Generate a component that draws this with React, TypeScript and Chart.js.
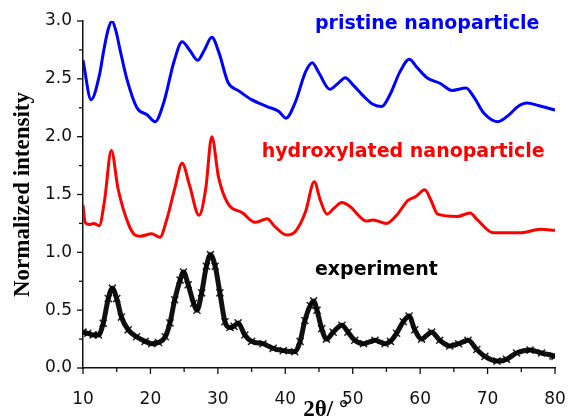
import React, { useEffect, useRef } from "react";
import { Chart, registerables } from "chart.js";

Chart.register(...registerables);

const pristineX = [10, 11.2, 12.5, 13.0, 13.7, 14.3, 14.9, 15.5, 16.5, 18, 19.5, 20.7, 22, 23.5, 24.7, 25.8, 27, 28, 29.1, 30.2, 31.5, 33, 35, 37.3, 39, 40.1, 41.5, 43, 44, 45, 46.6, 47.8, 48.9, 50, 51.8, 53, 54.3, 55.5, 57, 58.4, 59.5, 61, 63, 64.7, 66.8, 68, 69.5, 71.5, 73, 74.5, 75.8, 77.5, 80];
const pristineY = [2.66, 2.32, 2.55, 2.72, 2.92, 3.0, 2.91, 2.75, 2.5, 2.25, 2.19, 2.13, 2.3, 2.65, 2.82, 2.75, 2.66, 2.75, 2.86, 2.72, 2.47, 2.4, 2.32, 2.26, 2.22, 2.16, 2.3, 2.56, 2.64, 2.55, 2.41, 2.46, 2.51, 2.45, 2.34, 2.28, 2.26, 2.36, 2.56, 2.67, 2.6, 2.51, 2.46, 2.4, 2.42, 2.34, 2.2, 2.13, 2.18, 2.26, 2.29, 2.27, 2.23];

const hydroxX = [10, 10.3, 11, 11.6, 12.4, 13.2, 14.2, 15.2, 16.7, 17.7, 18.5, 20.2, 21.4, 22.4, 23.6, 24.7, 25.8, 27.2, 28.2, 29.1, 30.1, 31.4, 33.7, 35.5, 37.3, 38.5, 40.2, 41.5, 43, 44.3, 45.2, 46.2, 47.2, 48.4, 49.5, 52.1, 53, 55, 56.5, 58.2, 59.3, 60.7, 61.6, 62.6, 65.5, 67.4, 68.5, 70.8, 75, 77.8, 80];
const hydroxY = [1.41, 1.26, 1.24, 1.25, 1.23, 1.45, 1.88, 1.55, 1.25, 1.15, 1.14, 1.16, 1.13, 1.28, 1.55, 1.77, 1.58, 1.32, 1.55, 2.0, 1.65, 1.43, 1.34, 1.26, 1.29, 1.22, 1.15, 1.18, 1.35, 1.61, 1.45, 1.33, 1.38, 1.43, 1.4, 1.27, 1.28, 1.25, 1.32, 1.45, 1.48, 1.54, 1.45, 1.33, 1.31, 1.34, 1.28, 1.17, 1.17, 1.2, 1.19];

const expX = [10, 10.7, 11.5, 12.3, 13, 13.75, 14.35, 15, 15.7, 16.7, 17.95, 19.2, 20.2, 21.2, 22.2, 22.9, 23.6, 24.4, 24.9, 25.6, 26.4, 26.9, 27.6, 28.3, 28.9, 29.6, 30.3, 31.05, 31.8, 32.4, 33, 34, 35, 36.7, 38.2, 39.7, 41.4, 42.2, 42.9, 43.7, 44.2, 44.7, 45.4, 46.1, 47.1, 48.4, 49.3, 50.3, 51.6, 53.3, 54.8, 55.6, 56.5, 57.5, 58.35, 59.2, 60.2, 61.7, 62.9, 64.4, 65.7, 67.1, 68.4, 69.6, 71.4, 72.8, 74.3, 76.3, 78, 79.7, 80];
const expY = [0.31, 0.3, 0.285, 0.285, 0.386, 0.6, 0.69, 0.6, 0.44, 0.33, 0.27, 0.23, 0.21, 0.22, 0.27, 0.39, 0.59, 0.76, 0.83, 0.72, 0.56, 0.5, 0.65, 0.88, 0.98, 0.88, 0.65, 0.4, 0.35, 0.36, 0.39, 0.285, 0.23, 0.21, 0.17, 0.15, 0.14, 0.23, 0.41, 0.54, 0.58, 0.5, 0.34, 0.25, 0.31, 0.37, 0.31, 0.24, 0.21, 0.24, 0.21, 0.23, 0.3, 0.4, 0.45, 0.33, 0.25, 0.31, 0.24, 0.19, 0.21, 0.24, 0.16, 0.1, 0.06, 0.075, 0.13, 0.155, 0.13, 0.105, 0.1];

const seriesLabels = ["pristine nanoparticle", "hydroxylated nanoparticle", "experiment"];
const labelAnchors = [
  { x: 44.4, y: 2.97, color: "#0000ff" },
  { x: 36.5, y: 1.87, color: "#ff0000" },
  { x: 44.4, y: 0.85, color: "#000000" },
];
const xTitle = "2θ/ °";
const yTitle = "Normalized intensity";

const toPts = (xs: number[], ys: number[]) => xs.map((x, i) => ({ x, y: ys[i] }));

const tickPlugin = {
  id: "minorTicks",
  afterDraw(chart: any) {
    const ctx = chart.ctx;
    const xs = chart.scales.x;
    const ys = chart.scales.y;
    ctx.save();
    ctx.strokeStyle = "#111";
    ctx.lineWidth = 1.3;
    xs.ticks.forEach((t: any) => {
      const px = xs.getPixelForValue(t.value);
      const major = Math.abs(t.value % 10) < 1e-6;
      const len = major ? 6 : 4;
      ctx.beginPath();
      ctx.moveTo(px, xs.top);
      ctx.lineTo(px, xs.top + len);
      ctx.stroke();
    });
    ys.ticks.forEach((t: any) => {
      const py = ys.getPixelForValue(t.value);
      const major = Math.abs(t.value * 2 - Math.round(t.value * 2)) < 1e-6;
      const len = major ? 6 : 4;
      ctx.beginPath();
      ctx.moveTo(ys.right, py);
      ctx.lineTo(ys.right - len, py);
      ctx.stroke();
    });
    ctx.font = "bold 19px 'DejaVu Sans', sans-serif";
    ctx.textBaseline = "middle";
    ctx.textAlign = "left";
    labelAnchors.forEach((a, i) => {
      ctx.fillStyle = a.color;
      ctx.fillText(seriesLabels[i], xs.getPixelForValue(a.x), ys.getPixelForValue(a.y));
    });
    ctx.fillStyle = "#000";
    ctx.textAlign = "center";
    ctx.font = "bold 23px 'Liberation Serif', 'Times New Roman', serif";
    ctx.fillText(xTitle, xs.getPixelForValue(46), 410);
    ctx.restore();
  },
};

export default function App() {
  const ref = useRef<HTMLCanvasElement | null>(null);
  useEffect(() => {
    document.body.style.margin = "0";
    const canvas = ref.current!;
    const chart = new Chart(canvas, {
      type: "line",
      data: {
        datasets: [
          {
            label: seriesLabels[0],
            data: toPts(pristineX, pristineY),
            borderColor: "#0000ff",
            borderWidth: 3,
            pointRadius: 0,
            cubicInterpolationMode: "monotone",
            fill: false,
          },
          {
            label: seriesLabels[1],
            data: toPts(hydroxX, hydroxY),
            borderColor: "#ff0000",
            borderWidth: 3,
            pointRadius: 0,
            cubicInterpolationMode: "monotone",
            fill: false,
          },
          {
            label: seriesLabels[2],
            data: toPts(expX, expY),
            borderColor: "#111",
            borderWidth: 5,
            pointStyle: "crossRot",
            pointRadius: 5,
            pointBorderWidth: 1.5,
            pointBorderColor: "rgba(0,0,0,0.85)",
            cubicInterpolationMode: "monotone",
            fill: false,
          },
        ],
      },
      plugins: [tickPlugin],
      options: {
        animation: false,
        responsive: false,
        layout: { padding: { top: 21, right: 14, left: 0, bottom: 0 } },
        plugins: { legend: { display: false }, tooltip: { enabled: false } },
        scales: {
          x: {
            type: "linear",
            min: 10,
            max: 80,
            border: { display: true, color: "#111", width: 1.5 },
            grid: { display: false, drawTicks: false },
            ticks: {
              stepSize: 5,
              autoSkip: false,
              maxRotation: 0,
              padding: 21,
              color: "#111",
              font: { family: "'DejaVu Sans', sans-serif", size: 17 },
              callback: (v: any) => (Math.abs(v % 10) < 1e-6 ? String(v) : ""),
            },
            title: { display: false },
            afterFit: (s: any) => {
              s.height = 50;
              s.paddingLeft = 0;
              s.paddingRight = 0;
            },
          },
          y: {
            min: 0,
            max: 3,
            border: { display: true, color: "#111", width: 1.5 },
            grid: { display: false, drawTicks: false },
            ticks: {
              stepSize: 0.25,
              autoSkip: false,
              padding: 11,
              color: "#111",
              font: { family: "'DejaVu Sans', sans-serif", size: 17 },
              callback: (v: any) =>
                Math.abs(v * 2 - Math.round(v * 2)) < 1e-6 ? Number(v).toFixed(1) : "",
            },
            title: {
              display: true,
              text: yTitle,
              color: "#000",
              padding: { top: 9, bottom: 0 },
              font: { family: "'Liberation Serif', 'Times New Roman', serif", size: 23, weight: "bold" },
            },
            afterFit: (s: any) => {
              s.width = 83;
              s.paddingTop = 0;
              s.paddingBottom = 0;
            },
          },
        },
      },
    } as any);
    return () => chart.destroy();
  }, []);
  return <canvas ref={ref} width={569} height={418} style={{ display: "block" }} />;
}
